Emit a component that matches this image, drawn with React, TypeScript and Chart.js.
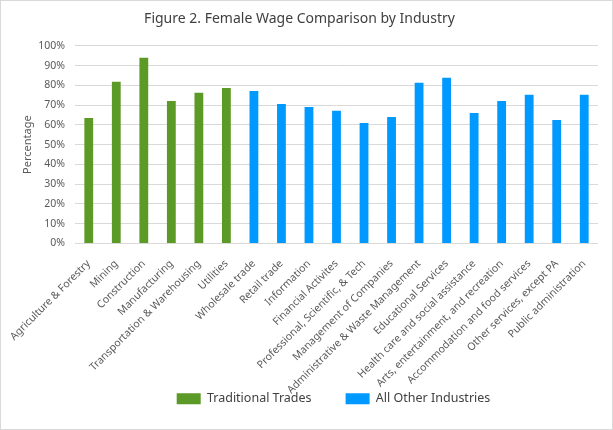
import React, { useEffect, useRef } from 'react';
import { Chart, registerables } from 'chart.js';

Chart.register(...registerables);

const industries = [
    'Agriculture & Forestry',
    'Mining',
    'Construction',
    'Manufacturing',
    'Transportation & Warehousing',
    'Utilities',
    'Wholesale trade',
    'Retail trade',
    'Information',
    'Financial Activites',
    'Professional, Scientific, & Tech',
    'Management of Companies',
    'Administrative & Waste Management',
    'Educational Services',
    'Health care and social assistance',
    'Arts, entertainment, and recreation',
    'Accommodation and food services',
    'Other services, except PA',
    'Public administration',
];

// wage ratio in %, null where the industry belongs to the other group
const traditionalTrades = [63.5, 81.8, 93.9, 72.1, 76.2, 78.7, null, null, null, null, null, null, null, null, null, null, null, null, null];
const otherIndustries = [null, null, null, null, null, null, 77.2, 70.6, 69.1, 67.1, 61.0, 64.0, 81.3, 83.8, 66.0, 72.1, 75.2, 62.5, 75.2];

const FONT = "'Noto Sans', sans-serif";

// legend sits a bit right of centre in the original
const shiftLegend = {
    id: 'shiftLegend',
    afterUpdate(chart: Chart) {
        const lg: any = chart.legend;
        if (lg) {
            lg.left += 34;
            lg.right += 34;
        }
    },
};

const App = () => {
    const chartRef = useRef<HTMLCanvasElement | null>(null);

    useEffect(() => {
        let myChart: Chart<'bar', (number | null)[], string> | null = null;
        const canvas = chartRef.current;
        if (canvas) {
            const ctx = canvas.getContext('2d');
            if (ctx) {
                myChart = new Chart(ctx, {
                    type: 'bar',
                    data: {
                        labels: industries,
                        datasets: [
                            {
                                label: 'Traditional Trades',
                                data: traditionalTrades,
                                backgroundColor: '#5B9A26',
                                grouped: false,
                                barPercentage: 0.32,
                                categoryPercentage: 1,
                            },
                            {
                                label: 'All Other Industries',
                                data: otherIndustries,
                                backgroundColor: '#0099FF',
                                grouped: false,
                                barPercentage: 0.32,
                                categoryPercentage: 1,
                            },
                        ],
                    },
                    plugins: [shiftLegend],
                    options: {
                        animation: false,
                        responsive: false,
                        devicePixelRatio: 1,
                        layout: { padding: { left: 0, right: 14, top: 0, bottom: 14 } },
                        plugins: {
                            title: {
                                display: true,
                                text: 'Figure 2. Female Wage Comparison by Industry',
                                color: '#404040',
                                font: { family: FONT, size: 14, weight: 'normal' },
                                padding: { top: 10, bottom: 18 },
                            },
                            legend: {
                                position: 'bottom',
                                labels: {
                                    boxWidth: 24,
                                    boxHeight: 11,
                                    padding: 34,
                                    color: '#404040',
                                    font: { family: FONT, size: 12.5 },
                                },
                            },
                            tooltip: { enabled: false },
                        },
                        scales: {
                            x: {
                                grid: { display: false },
                                border: { display: false },
                                ticks: {
                                    minRotation: 45,
                                    maxRotation: 45,
                                    autoSkip: false,
                                    padding: 6,
                                    color: '#595959',
                                    font: { family: FONT, size: 10.5 },
                                },
                                // the long labels run down beside the legend, so keep the box short
                                // and let the labels draw past it
                                afterFit: (scale: any) => {
                                    scale.height = 115;
                                    scale._computeLabelArea = () => undefined;
                                },
                            },
                            y: {
                                min: 0,
                                max: 100,
                                border: { display: false },
                                grid: { color: '#D9D9D9', lineWidth: 1, drawTicks: false },
                                ticks: {
                                    stepSize: 10,
                                    padding: 10,
                                    color: '#595959',
                                    font: { family: FONT, size: 10.5 },
                                    callback: (v) => v + '%',
                                },
                                title: {
                                    display: true,
                                    text: 'Percentage',
                                    color: '#595959',
                                    font: { family: FONT, size: 11 },
                                    padding: { top: 20, bottom: 0 },
                                },
                                afterFit: (scale) => {
                                    scale.width = 74;
                                },
                            },
                        },
                    } as any,
                });
            }
        }
        return () => {
            if (myChart) {
                myChart.destroy();
            }
        };
    }, []);

    return (
        <div
            style={{
                position: 'absolute',
                left: 0,
                top: 0,
                width: 613,
                height: 430,
                boxSizing: 'border-box',
                border: '1px solid #D9D9D9',
                background: '#fff',
            }}
        >
            <canvas ref={chartRef} width={611} height={428} style={{ display: 'block' }}></canvas>
        </div>
    );
};

export default App;
